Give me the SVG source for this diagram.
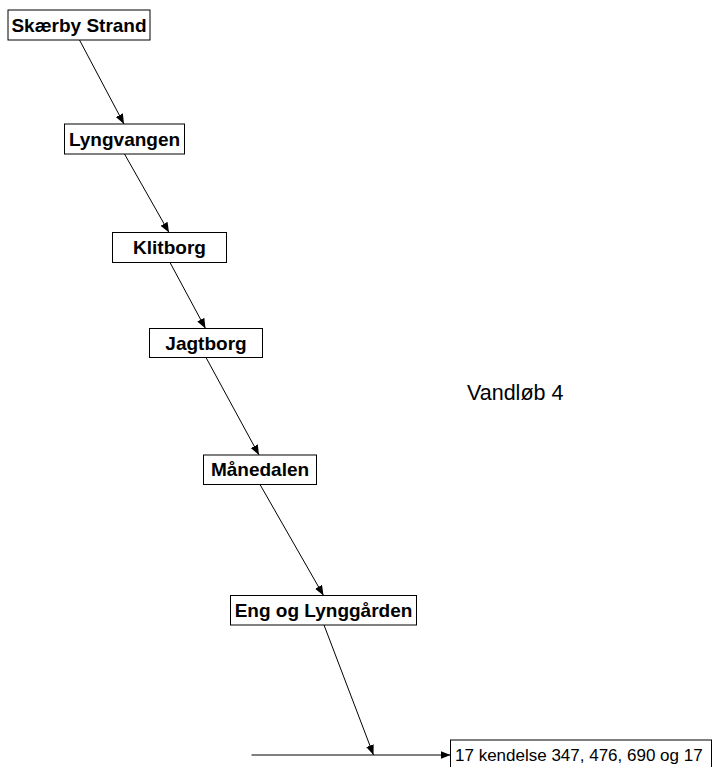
<svg xmlns="http://www.w3.org/2000/svg" width="714" height="767" viewBox="0 0 714 767">
<style>
.box{fill:#fff;stroke:#000;stroke-width:1}
.lbl{font-family:"Liberation Sans",Arial,sans-serif;font-weight:bold;font-size:19px;text-anchor:middle;fill:#000}
.plain{font-family:"Liberation Sans",Arial,sans-serif;font-size:17px;fill:#000}
.edge{stroke:#000;stroke-width:1;fill:none;marker-end:url(#ah)}
</style>
<defs>
<marker id="ah" markerUnits="userSpaceOnUse" markerWidth="11" markerHeight="9" refX="10" refY="4" orient="auto">
<path d="M0,0 L10,4 L0,8 z" fill="#000"/>
</marker>
</defs>
<rect width="714" height="767" fill="#fff"/>
<g id="connectors">
<line class="edge" x1="79.5" y1="40" x2="124" y2="124"/>
<line class="edge" x1="124.5" y1="154" x2="169" y2="232.5"/>
<line class="edge" x1="170" y1="262.5" x2="205.5" y2="328.5"/>
<line class="edge" x1="206" y1="357.5" x2="259" y2="455"/>
<line class="edge" x1="260" y1="484.5" x2="323.5" y2="595.5"/>
<line class="edge" x1="324" y1="625" x2="373.5" y2="755"/>
<line class="edge" x1="251.5" y1="755" x2="450.5" y2="755"/>
</g>
<g id="n1"><rect class="box" x="8" y="10" width="142" height="30"/><text class="lbl" x="79" y="31.7">Skærby Strand</text></g>
<g id="n2"><rect class="box" x="64.5" y="124" width="120" height="30"/><text class="lbl" x="124.5" y="145.7">Lyngvangen</text></g>
<g id="n3"><rect class="box" x="112.5" y="232.5" width="114" height="30"/><text class="lbl" x="169.5" y="254.2">Klitborg</text></g>
<g id="n4"><rect class="box" x="149.5" y="328.5" width="113" height="29"/><text class="lbl" x="206" y="349.7">Jagtborg</text></g>
<g id="n5"><rect class="box" x="203.5" y="455" width="113" height="29.5"/><text class="lbl" x="260" y="476.4">Månedalen</text></g>
<g id="n6"><rect class="box" x="230.5" y="595.5" width="186" height="29.5"/><text class="lbl" x="323.5" y="616.9">Eng og Lynggården</text></g>
<g id="n7"><rect class="box" x="450.5" y="740" width="261" height="32"/><text class="plain" x="455" y="761">17 kendelse 347, 476, 690 og 17</text></g>
<g id="title"><text class="plain" x="467" y="399.5" style="font-size:21.5px">Vandløb 4</text></g>
</svg>
